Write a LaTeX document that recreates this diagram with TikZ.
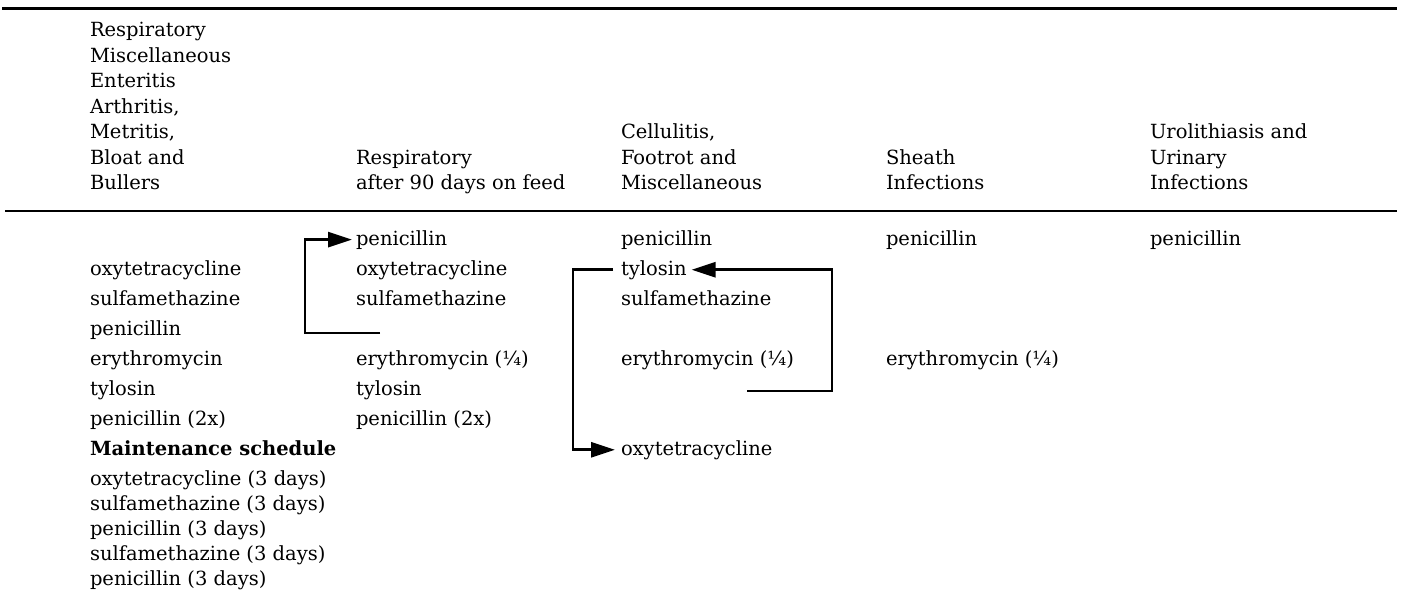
\documentclass[tikz,border=0pt]{standalone}
\usepackage{fontspec}
\setmainfont{DejaVu Serif}
\usetikzlibrary{arrows.meta}
\tikzset{
  txt/.style={anchor=base west, inner sep=0pt, outer sep=0pt, font=\fontsize{19.5}{23}\selectfont},
  rulebold/.style={line width=3pt},
  rulethin/.style={line width=2.6pt},
  bracket/.style={line width=2.8pt, line join=miter},
  arr/.style={bracket, -{Triangle[length=24pt,width=15pt]}},
}
\begin{document}
\begin{tikzpicture}[x=1pt,y=-1pt]
\fill[white] (0,0) rectangle (1404,610);
\useasboundingbox (0,0) rectangle (1404,610);
% rules
\coordinate (ta) at (2,8.5);  \coordinate (tb) at (1397,8.5);
\coordinate (ba) at (5,211);  \coordinate (bb) at (1397,211);
\draw[rulebold] (ta) -- (tb);
\draw[rulethin] (ba) -- (bb);
% headers
\node[txt] (h1a) at (90,37) {Respiratory};
\node[txt] (h1b) at (90,62.4) {Miscellaneous};
\node[txt] (h1c) at (90,87.8) {Enteritis};
\node[txt] (h1d) at (90,113.2) {Arthritis,};
\node[txt] (h1e) at (90,138.6) {Metritis,};
\node[txt] (h1f) at (90,164) {Bloat and};
\node[txt] (h1g) at (90,189.4) {Bullers};
\node[txt] (h2a) at (356,164) {Respiratory};
\node[txt] (h2b) at (356,189.4) {after 90 days on feed};
\node[txt] (h3a) at (621,138.6) {Cellulitis,};
\node[txt] (h3b) at (621,164) {Footrot and};
\node[txt] (h3c) at (621,189.4) {Miscellaneous};
\node[txt] (h4a) at (886,164) {Sheath};
\node[txt] (h4b) at (886,189.4) {Infections};
\node[txt] (h5a) at (1150,138.6) {Urolithiasis and};
\node[txt] (h5b) at (1150,164) {Urinary};
\node[txt] (h5c) at (1150,189.4) {Infections};
% column 1
\node[txt] (c1r1) at (90,275) {oxytetracycline};
\node[txt] (c1r2) at (90,305) {sulfamethazine};
\node[txt] (c1r3) at (90,335) {penicillin};
\node[txt] (c1r4) at (90,365) {erythromycin};
\node[txt] (c1r5) at (90,395) {tylosin};
\node[txt] (c1r6) at (90,425) {penicillin (2x)};
\node[txt] (c1r7) at (90,455) {\bfseries Maintenance schedule};
\node[txt] (c1m1) at (90,485) {oxytetracycline (3 days)};
\node[txt] (c1m2) at (90,510) {sulfamethazine (3 days)};
\node[txt] (c1m3) at (90,535) {penicillin (3 days)};
\node[txt] (c1m4) at (90,560) {sulfamethazine (3 days)};
\node[txt] (c1m5) at (90,585) {penicillin (3 days)};
% column 2
\node[txt] (c2r0) at (356,245) {penicillin};
\node[txt] (c2r1) at (356,275) {oxytetracycline};
\node[txt] (c2r2) at (356,305) {sulfamethazine};
\node[txt] (c2r4) at (356,365) {erythromycin (¼)};
\node[txt] (c2r5) at (356,395) {tylosin};
\node[txt] (c2r6) at (356,425) {penicillin (2x)};
% column 3
\node[txt] (c3r0) at (621,245) {penicillin};
\node[txt] (c3r1) at (621,275) {tylosin};
\node[txt] (c3r2) at (621,305) {sulfamethazine};
\node[txt] (c3r4) at (621,365) {erythromycin (¼)};
\node[txt] (c3r7) at (621,455) {oxytetracycline};
% column 4
\node[txt] (c4r0) at (886,245) {penicillin};
\node[txt] (c4r4) at (886,365) {erythromycin (¼)};
% column 5
\node[txt] (c5r0) at (1150,245) {penicillin};
% connectors
\coordinate (c2end) at (380,333);
\coordinate (c2corner) at (305,333);
\draw[arr, shorten >=4pt] (c2end) -- (c2corner) |- (c2r0.west);
\coordinate (c3endA) at (747,391);
\coordinate (c3cornerA) at (832,391);
\draw[arr, shorten >=5pt] (c3endA) -- (c3cornerA) |- (c3r1.east);
\coordinate (c3left) at (573,420);
\draw[arr, shorten <=8pt, shorten >=6pt] (c3r1.west) -| (c3left) |- (c3r7.west);
\end{tikzpicture}
\end{document}
